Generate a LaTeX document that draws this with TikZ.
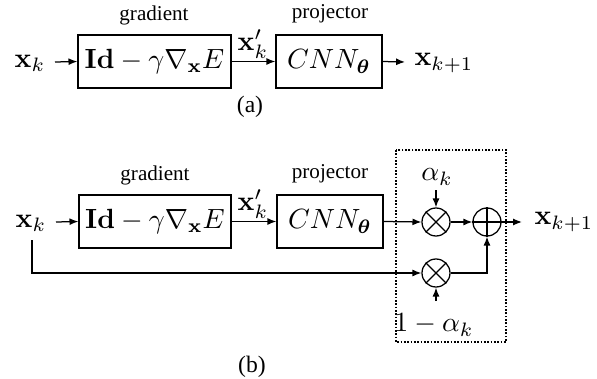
\documentclass[tikz,border=0pt]{standalone}
\usepackage[no-math]{fontspec}
\setmainfont{Liberation Serif}
\usepackage{bm}
\usetikzlibrary{arrows.meta}
\begin{document}
\begin{tikzpicture}[x=0.36pt,y=-0.36pt,
  line width=0.45pt,
  arr/.style={-{Latex[length=3.2pt,width=2.5pt]}},
  lbl/.style={font=\fontsize{7.6}{9}\selectfont,inner sep=0pt},
  captext/.style={font=\fontsize{8.5}{10}\selectfont,inner sep=0pt},
  mth/.style={inner sep=0pt},
  op/.style={draw,circle,minimum size=28*0.36pt,inner sep=0pt},
  dotbox/.style={draw,line width=0.65pt,dash pattern=on 0.55pt off 0.65pt}]
\useasboundingbox (0,0) rectangle (597,379);
% ---------- (a)
\node[mth] (xa) at (30,63) {$\mathbf{x}_k$};
\node[draw,minimum width=153*0.36pt,minimum height=53*0.36pt,inner sep=0pt] (ga) at (154.5,61.5) {$\mathbf{Id}-\gamma\nabla_{\mathbf{x}}E$};
\node[draw,minimum width=106*0.36pt,minimum height=53*0.36pt,inner sep=0pt] (pa) at (329,61.5) {$CNN_{\bm{\theta}}$};
\node[lbl] (gla) at (154,15) {gradient};
\node[lbl] (pla) at (330,14) {projector};
\node[mth] (xpa) at (253,44) {$\mathbf{x}'_k$};
\node[mth,anchor=west] (xna) at (414,63) {$\mathbf{x}_{k+1}$};
\node[captext] (ca) at (250,107) {(a)};
\coordinate (sa) at (55,62);
\coordinate (ea) at (405,62);
\draw[arr] (sa) -- (ga.west);
\draw[arr] (ga.east) -- (pa.west);
\draw[arr] (pa.east) -- (ea);
% ---------- (b)
\node[mth] (xb) at (31,223) {$\mathbf{x}_k$};
\node[draw,minimum width=152*0.36pt,minimum height=53*0.36pt,inner sep=0pt] (gb) at (155,221.5) {$\mathbf{Id}-\gamma\nabla_{\mathbf{x}}E$};
\node[draw,minimum width=106*0.36pt,minimum height=53*0.36pt,inner sep=0pt] (pb) at (330,221.5) {$CNN_{\bm{\theta}}$};
\node[lbl] (glb) at (155,175) {gradient};
\node[lbl] (plb) at (330,174) {projector};
\node[mth] (xpb) at (253,204) {$\mathbf{x}'_k$};
\node[op] (m1) at (436,222) {};
\node[op] (ad) at (487,222) {};
\node[op] (m2) at (436,273) {};
\draw (m1.45) -- (m1.225) (m1.135) -- (m1.-45);
\draw (m2.45) -- (m2.225) (m2.135) -- (m2.-45);
\draw (ad.north) -- (ad.south) (ad.west) -- (ad.east);
\node[mth] (al) at (437,177) {$\alpha_k$};
\node[mth] (oal) at (434,325) {$1-\alpha_k$};
\node[mth,anchor=west] (xnb) at (534,222) {$\mathbf{x}_{k+1}$};
\node[captext] (cb) at (252,367) {(b)};
\coordinate (sb) at (56,222);
\coordinate (db) at (32,240);
\coordinate (ta) at (436,190);
\coordinate (tb) at (436,301);
\coordinate (eb) at (522,222);
\draw[arr] (sb) -- (gb.west);
\draw[arr] (gb.east) -- (pb.west);
\draw[arr] (pb.east) -- (m1.west);
\draw[arr] (m1.east) -- (ad.west);
\draw[arr] (ad.east) -- (eb);
\draw[arr] (db) |- (m2.west);
\draw[arr] (m2.east) -| (ad.south);
\draw[arr] (ta) -- (m1.north);
\draw[arr] (tb) -- (m2.south);
\draw[dotbox] (396,150) rectangle (506,342);
\end{tikzpicture}
\end{document}
